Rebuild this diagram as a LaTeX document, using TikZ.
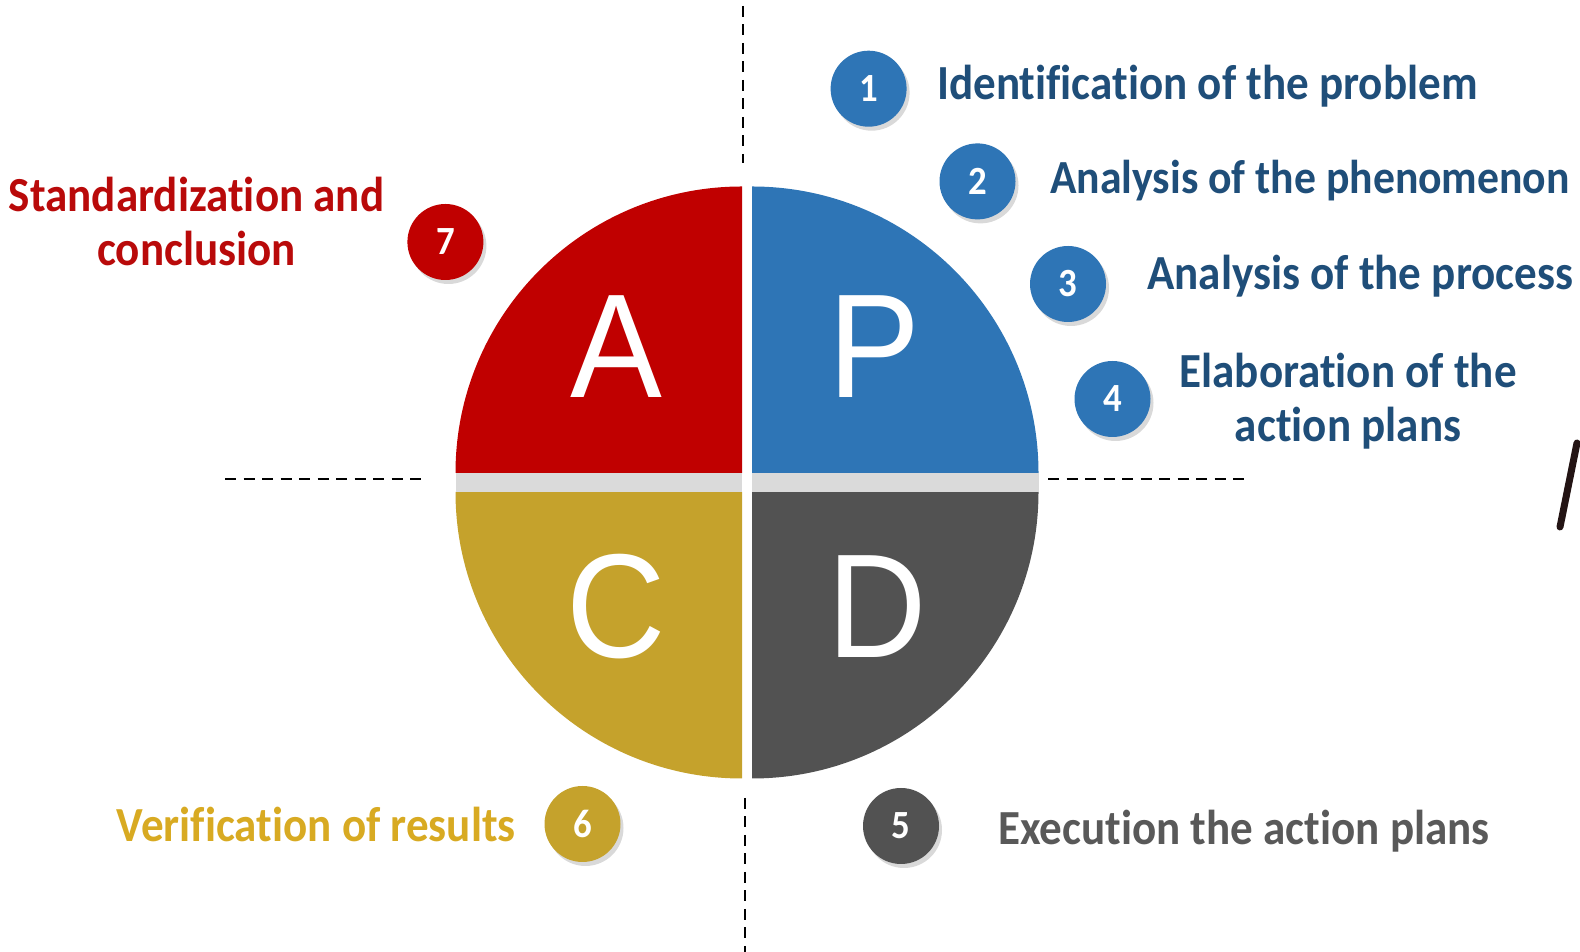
\documentclass[tikz,border=0pt]{standalone}
\usepackage{fontspec}
\setmainfont{Carlito}[FakeStretch=0.92, Ligatures=NoCommon]
\newfontfamily\letterfont{Liberation Sans}[FakeStretch=0.93]
\usetikzlibrary{shadows}
\definecolor{qred}{RGB}{192,0,0}
\definecolor{qblue}{RGB}{46,117,182}
\definecolor{qgold}{RGB}{197,162,44}
\definecolor{qgray}{RGB}{82,82,82}
\definecolor{tblue}{RGB}{31,78,121}
\definecolor{tred}{RGB}{185,10,10}
\definecolor{tgold}{RGB}{216,170,34}
\definecolor{tgray}{RGB}{89,89,89}
\definecolor{bandgray}{RGB}{218,218,218}
\definecolor{ink}{RGB}{35,20,20}
\begin{document}
\begin{tikzpicture}[x=1pt,y=1pt,
  numdot/.style={circle, minimum size=76pt, inner sep=0pt, fill=#1, text=white,
    font=\fontsize{40}{40}\selectfont\bfseries,
    drop shadow={shadow xshift=3pt, shadow yshift=-4pt, opacity=0.3}},
  steptext/.style={text=#1, font=\fontsize{49}{54}\selectfont\bfseries, inner sep=0pt},
  bigletter/.style={text=white, font=\letterfont\fontsize{148}{148}\selectfont, inner sep=0pt, anchor=base},
  axisline/.style={black, line width=2.8pt, dash pattern=on 11pt off 7.5pt},
]
\useasboundingbox (0,0) rectangle (1580,952);
% quadrants
\fill[qblue] (752,479) -- ++(286.5,0) arc[start angle=0,end angle=90,radius=286.5] -- cycle;
\fill[qred] (742,479) -- ++(0,286.5) arc[start angle=90,end angle=180,radius=286.5] -- cycle;
\fill[qgold] (742,460) -- ++(-286.5,0) arc[start angle=180,end angle=270,radius=286.5] -- cycle;
\fill[qgray] (752,460) -- ++(0,-286.5) arc[start angle=270,end angle=360,radius=286.5] -- cycle;
\fill[bandgray] (455.5,460) rectangle (742,479);
\fill[bandgray] (752,460) rectangle (1038.5,479);
% letters
\node[bigletter] (lA) at (616,554) {A};
\node[bigletter] (lP) at (874,554) {P};
\node[bigletter] (lC) at (616,294) {C};
\node[bigletter] (lD) at (877,294) {D};
% dashed axes
\coordinate (vt1) at (743,946);
\coordinate (vt2) at (743,789);
\coordinate (vb1) at (745,154);
\coordinate (vb2) at (745,0);
\coordinate (hl1) at (225,473);
\coordinate (hl2) at (427,473);
\coordinate (hr1) at (1048,473);
\coordinate (hr2) at (1250,473);
\draw[axisline] (vt1) -- (vt2);
\draw[axisline] (vb1) -- (vb2);
\draw[axisline] (hl1) -- (hl2);
\draw[axisline] (hr1) -- (hr2);
% numbered dots
\node[numdot=qblue] (n1) at (868.6,863.3) {1};
\node[numdot=qblue] (n2) at (977.5,770.6) {2};
\node[numdot=qblue] (n3) at (1068,668) {3};
\node[numdot=qblue] (n4) at (1112.5,553) {4};
\node[numdot=qgray] (n5) at (901,126) {5};
\node[numdot=qgold] (n6) at (582.5,128) {6};
\node[numdot=qred] (n7) at (445.4,710) {7};
% labels
\node[steptext=tblue, anchor=base west] (t1) at (937,852) {Identification of the problem};
\node[steptext=tblue, anchor=base west, font=\fontsize{47.5}{54}\selectfont\bfseries] (t2) at (1050,758.5) {Analysis of the phenomenon};
\node[steptext=tblue, anchor=base west] (t3) at (1147,662) {Analysis of the process};
\node[steptext=tblue, align=center] (t4) at (1348,550.5) {Elaboration of the\\action plans};
\node[steptext=tgray, anchor=base west] (t5) at (998,107.5) {Execution the action plans};
\node[steptext=tgold, anchor=base east] (t6) at (516,110.5) {Verification of results};
\node[steptext=tred, align=center] (t7) at (196.5,730.5) {Standardization and\\conclusion};
% stray mark
\draw[ink, line width=7pt, line cap=round] (1560,425) -- (1577,509);
\end{tikzpicture}
\end{document}
